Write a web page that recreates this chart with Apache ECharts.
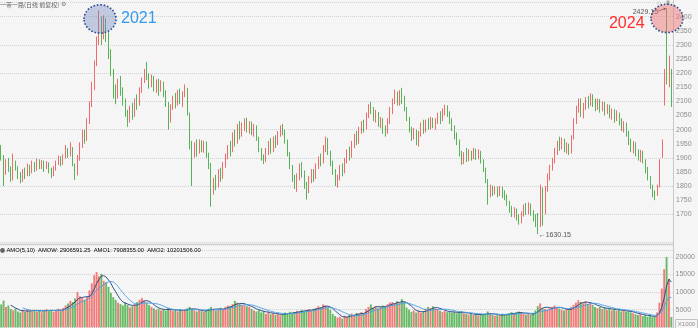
<!DOCTYPE html>
<html>
<head>
<meta charset="utf-8">
<script src="https://cdn.jsdelivr.net/npm/echarts@6/dist/echarts.min.js"></script>
<style>
html,body{margin:0;padding:0;background:#f5f5f5;}
#chart{width:698px;height:328px;}
</style>
</head>
<body>
<div id="chart"></div>
<script>
// Daily bars: [open, close, low, high]
const candles = [
[1925,1905,1890,1945],[1900,1850,1800,1910],[1850,1880,1840,1895],[1885,1860,1850,1900],[1860,1825,1815,1870],
[1830,1880,1820,1915],[1880,1865,1855,1890],[1862,1838,1825,1870],[1840,1820,1810,1850],[1822,1850,1815,1860],
[1852,1840,1825,1865],[1842,1870,1835,1880],[1868,1848,1835,1875],[1850,1880,1845,1890],[1878,1860,1850,1885],
[1862,1890,1855,1898],[1888,1870,1860,1895],[1872,1885,1860,1892],[1883,1865,1850,1890],[1866,1880,1860,1888],
[1878,1860,1845,1884],[1858,1840,1828,1865],[1842,1862,1835,1870],[1864,1880,1855,1890],[1882,1900,1875,1908],
[1898,1880,1870,1905],[1882,1905,1875,1912],[1906,1930,1898,1945],[1928,1915,1900,1935],[1915,1935,1905,1955],
[1930,1880,1870,1938],[1875,1840,1822,1880],[1845,1900,1838,1910],[1900,1945,1890,1955],[1945,1990,1935,2000],
[1985,1965,1950,2000],[1968,2030,1960,2040],[2030,2090,2020,2100],[2090,2150,2080,2170],[2150,2230,2140,2245],
[2235,2310,2225,2330],[2320,2360,2300,2422],[2370,2330,2300,2400],[2335,2380,2320,2405],[2375,2340,2310,2395],
[2340,2270,2250,2350],[2270,2210,2190,2285],[2205,2140,2110,2215],[2140,2115,2090,2160],[2120,2160,2110,2180],
[2160,2140,2120,2190],[2138,2095,2085,2150],[2095,2060,2045,2110],[2058,2030,2010,2070],[2032,2075,2025,2085],
[2075,2050,2035,2095],[2052,2100,2045,2110],[2100,2090,2070,2125],[2092,2140,2085,2150],[2140,2175,2130,2185],
[2178,2205,2165,2215],[2205,2190,2175,2240],[2188,2160,2145,2200],[2160,2185,2150,2195],[2185,2150,2135,2190],
[2150,2170,2130,2178],[2172,2140,2120,2180],[2142,2165,2135,2175],[2165,2135,2115,2170],[2135,2090,2080,2140],
[2090,2030,2000,2098],[2035,2080,2025,2090],[2080,2110,2070,2120],[2110,2095,2075,2130],[2095,2130,2085,2140],
[2130,2100,2090,2145],[2100,2125,2080,2135],[2125,2150,2115,2160],[2140,2060,2050,2148],[2055,1960,1930,2060],
[1950,1910,1800,1960],[1915,1945,1900,1955],[1945,1925,1905,1965],[1925,1955,1915,1965],[1955,1935,1920,1962],
[1935,1950,1918,1960],[1950,1915,1900,1958],[1912,1880,1860,1918],[1875,1790,1727,1882],[1790,1820,1770,1830],
[1820,1800,1785,1840],[1802,1845,1795,1860],[1845,1830,1815,1865],[1832,1875,1825,1885],[1875,1905,1865,1915],
[1905,1935,1895,1945],[1935,1925,1905,1960],[1925,1975,1920,1990],[1975,1955,1940,2000],[1958,2000,1950,2020],
[2000,1985,1965,2030],[1985,2010,1975,2025],[2010,2030,1995,2040],[2030,2000,1990,2042],[2000,2020,1985,2030],
[2020,1995,1980,2028],[1995,2010,1975,2020],[2010,1970,1960,2015],[1970,1930,1920,1975],[1930,1900,1890,1935],
[1900,1890,1878,1912],[1892,1925,1885,1935],[1925,1945,1910,1960],[1945,1930,1915,1970],[1932,1960,1920,1975],
[1960,1950,1935,1980],[1952,1985,1945,1995],[1985,2005,1975,2015],[2005,1995,1980,2020],[1995,1960,1950,2000],
[1960,1915,1905,1965],[1915,1870,1860,1920],[1870,1830,1815,1875],[1830,1800,1790,1840],[1800,1830,1780,1845],
[1830,1870,1820,1880],[1870,1845,1830,1885],[1845,1800,1790,1855],[1800,1785,1752,1815],[1785,1820,1775,1835],
[1820,1845,1810,1860],[1845,1830,1815,1860],[1830,1870,1825,1880],[1870,1895,1860,1905],[1895,1885,1870,1915],
[1885,1930,1880,1945],[1930,1960,1920,1975],[1960,1920,1910,1970],[1920,1880,1870,1925],[1880,1850,1840,1890],
[1850,1815,1800,1860],[1815,1830,1795,1840],[1830,1865,1820,1875],[1865,1850,1835,1880],[1850,1890,1845,1900],
[1890,1920,1880,1930],[1920,1905,1890,1940],[1905,1945,1900,1960],[1945,1975,1935,1985],[1975,1960,1945,1995],
[1960,1995,1950,2010],[1995,2020,1985,2030],[2020,2005,1990,2035],[2005,2050,2000,2060],[2050,2080,2040,2090],
[2080,2070,2055,2098],[2070,2040,2030,2080],[2040,2055,2025,2070],[2055,2020,2010,2062],[2020,2035,2005,2045],
[2035,2000,1985,2040],[2000,1990,1975,2015],[1990,2030,1985,2040],[2030,2065,2020,2080],[2065,2100,2055,2110],
[2100,2130,2090,2142],[2130,2095,2085,2135],[2095,2125,2085,2140],[2125,2110,2090,2148],[2110,2075,2065,2120],
[2075,2040,2030,2080],[2040,2000,1990,2045],[2000,1975,1960,2010],[1975,1995,1965,2005],[1995,1960,1945,2000],
[1960,1985,1940,1995],[1985,2015,1975,2025],[2015,2000,1985,2035],[2000,2025,1990,2035],[2025,2010,2000,2040],
[2010,2035,2000,2045],[2035,2015,2005,2042],[2015,2030,2000,2040],[2030,2050,2020,2060],[2050,2035,2020,2065],
[2035,2065,2030,2075],[2065,2080,2050,2088],[2080,2055,2045,2086],[2055,2030,2020,2065],[2030,2010,1995,2040],
[2010,1980,1965,2015],[1980,1960,1945,1990],[1960,1920,1905,1965],[1920,1890,1875,1925],[1890,1910,1878,1920],
[1910,1895,1885,1935],[1895,1920,1888,1930],[1920,1905,1890,1925],[1905,1925,1895,1935],[1925,1905,1893,1932],
[1905,1915,1895,1930],[1915,1890,1880,1925],[1890,1860,1850,1895],[1860,1820,1810,1865],[1820,1770,1734,1825],
[1770,1795,1760,1805],[1795,1780,1765,1802],[1780,1790,1770,1800],[1790,1775,1760,1798],[1775,1790,1765,1800],
[1790,1770,1758,1798],[1770,1760,1750,1785],[1760,1740,1730,1770],[1740,1720,1705,1748],[1720,1700,1690,1730],
[1700,1715,1688,1725],[1715,1690,1678,1720],[1690,1675,1663,1700],[1675,1700,1668,1710],[1700,1725,1692,1735],
[1725,1710,1698,1740],[1710,1730,1700,1742],[1730,1705,1695,1738],[1705,1690,1675,1715],[1690,1665,1655,1700],
[1700,1650,1630.15,1705],[1660,1790,1655,1805],[1785,1700,1660,1795],[1705,1790,1700,1800],[1790,1830,1780,1845],
[1830,1865,1820,1875],[1865,1890,1855,1900],[1890,1920,1880,1935],[1920,1950,1910,1960],[1950,1940,1925,1975],
[1940,1960,1930,1972],[1960,1935,1920,1968],[1935,1945,1915,1955],[1945,1920,1910,1950],[1920,1970,1915,1980],
[1970,2030,1965,2040],[2030,2070,2020,2085],[2070,2100,2060,2110],[2100,2060,2045,2110],[2060,2085,2040,2095],
[2085,2105,2070,2115],[2105,2090,2075,2120],[2090,2115,2085,2129],[2115,2095,2080,2125],[2095,2080,2065,2110],
[2080,2100,2070,2110],[2100,2075,2060,2108],[2075,2090,2065,2100],[2090,2065,2050,2098],[2065,2080,2055,2090],
[2080,2050,2040,2088],[2050,2065,2035,2075],[2065,2040,2025,2072],[2040,2055,2030,2068],[2055,2030,2015,2060],
[2030,2010,1995,2040],[2010,2020,1990,2030],[2020,1985,1975,2025],[1985,1960,1945,1995],[1960,1935,1920,1968],
[1935,1950,1915,1960],[1950,1920,1905,1955],[1920,1905,1890,1930],[1905,1920,1885,1928],[1920,1890,1880,1925],
[1890,1860,1845,1895],[1860,1830,1820,1868],[1830,1800,1790,1835],[1800,1770,1760,1805],[1770,1765,1750,1785],
[1770,1795,1765,1805],[1800,1890,1795,1895],[1905,1960,1900,1965],[2090,2210,2085,2215],[2395,2170,2160,2429.15],
[2185,2250,2150,2262],[2200,2105,2080,2215]
];

// Turnover per bar, in units of 1000
const volumes = [
6500,7600,5800,6200,5200,4800,5300,4500,4200,4900,
4400,5100,4600,4700,5000,4500,4900,4300,4800,5200,
4600,5000,4400,4900,5300,4700,5500,6200,6800,7500,
7200,8200,10000,8800,8300,7800,8600,10500,12500,14800,
15700,14500,15200,13200,12800,11500,9800,8600,7800,7000,
6600,6200,7000,6400,5600,6000,6500,7200,7800,8300,
7600,7000,6300,5800,5400,5000,5300,4800,5100,4700,
5500,5000,4600,4900,4500,5200,4700,5000,5400,5800,
5200,4800,4500,5000,4600,4400,4900,5300,5800,5200,
4700,5000,5500,5300,5800,6200,6000,6600,7500,7000,
6600,6200,6400,6000,5800,5200,4800,4500,4900,4200,
4600,3800,4300,3700,4000,3500,3900,3400,3800,4200,
3900,4400,4000,4300,4700,4500,5000,4600,4900,5200,
4800,5300,5500,6000,5700,6500,6200,5600,5000,3800,
3200,2800,3000,2500,3300,2900,3600,3900,3500,4100,
3800,4300,4000,5200,5800,6500,5600,6000,5400,5800,
6200,5900,6600,7000,7200,6800,7400,7000,8000,7200,
5600,5000,4400,4800,4200,4600,4100,4500,5300,5800,
5500,6000,5400,5200,4700,4400,4600,4300,4500,4100,
4400,4000,4200,4600,4000,3800,3600,3900,3500,3700,
3400,3800,3500,3900,4500,3800,3500,3300,3600,3400,
3700,3500,3800,4000,4300,3900,4200,4500,4100,3800,
3600,3900,3500,4000,4800,6000,6800,5500,5200,5000,
5400,5800,6200,5600,5300,5000,4800,5200,4900,5800,
6400,7000,7700,7200,6800,7300,6600,7000,6400,5800,
5400,5800,5200,5600,5000,5400,4800,5200,4700,5000,
4500,4800,4400,4600,4200,4000,3700,3500,3800,3200,
3400,3000,3300,2900,3100,4200,7000,11000,16500,20000,
13800,2906.59
];

const priceRange = [1600, 2450];
const priceLabelRange = [1700, 2400];
const volumeRange = [0, 22000];
const volumeLabelRange = [5000, 20000];
const maPeriods = [5, 10];
const titleText = '一带一路(日线 前复权)';
const legendParts = ['AMO(5,10)  AMOW: 2906591.25  AMO1: 7908355.00  ', 'AMO2: 10201506.00'];
const yearTags = ['2021', '2024'];
const unitTag = 'X1000';

const UP = '#f26a6a', DOWN = '#58b258';
const UP_VOL = '#f47a7a', DOWN_VOL = '#66ba66';
const FONT = '"Liberation Sans", Arial, sans-serif';

const categories = candles.map((c, i) => String(i));

function movingAverage(n) {
  const out = [];
  let sum = 0;
  for (let i = 0; i < volumes.length; i++) {
    sum += volumes[i];
    if (i >= n) sum -= volumes[i - n];
    out.push(i >= n - 1 ? +(sum / n).toFixed(2) : '-');
  }
  return out;
}

const chart = echarts.init(document.getElementById('chart'), null, { renderer: 'canvas' });

const hiddenCat = {
  type: 'category', data: categories, boundaryGap: true,
  axisLine: { show: false }, axisTick: { show: false }, axisLabel: { show: false }, splitLine: { show: false }
};
const dotted = { type: 'dotted', color: '#d2d2d2', width: 1 };

chart.setOption({
  animation: false,
  backgroundColor: '#f5f5f5',
  textStyle: { fontFamily: FONT },
  grid: [
    { left: 0, right: 25, top: 2.6, height: 239.9 },
    { left: 0, right: 25, top: 249.9, height: 77.4 }
  ],
  xAxis: [
    Object.assign({ gridIndex: 0 }, hiddenCat),
    Object.assign({ gridIndex: 1 }, hiddenCat)
  ],
  yAxis: [
    {
      gridIndex: 0, position: 'right', min: priceRange[0], max: priceRange[1], interval: 50,
      axisLine: { show: false }, axisTick: { show: false }, splitLine: { show: false },
      axisLabel: {
        fontSize: 7, color: '#8c8c8c', margin: 3, fontFamily: FONT, showMaxLabel: false,
        formatter: v => (v >= priceLabelRange[0] && v <= priceLabelRange[1]) ? String(v) : ''
      }
    },
    {
      gridIndex: 0, position: 'right', min: priceRange[0], max: priceRange[1], interval: 100,
      axisLine: { show: false }, axisTick: { show: false }, axisLabel: { show: false },
      splitLine: { show: true, lineStyle: dotted }
    },
    {
      gridIndex: 1, position: 'right', min: volumeRange[0], max: volumeRange[1], interval: 5000,
      axisLine: { show: false }, axisTick: { show: false },
      splitLine: { show: true, lineStyle: dotted },
      axisLabel: {
        fontSize: 7, color: '#8c8c8c', margin: 3, fontFamily: FONT, showMaxLabel: false,
        formatter: v => (v >= volumeLabelRange[0] && v <= volumeLabelRange[1] && v % 5000 === 0) ? String(v) : ''
      }
    }
  ],
  series: [
    {
      type: 'candlestick', xAxisIndex: 0, yAxisIndex: 0, data: candles, barWidth: '40%',
      itemStyle: { color: UP, color0: DOWN, borderColor: UP, borderColor0: DOWN, borderWidth: 1 }
    },
    {
      type: 'bar', xAxisIndex: 1, yAxisIndex: 2, barWidth: '80%',
      data: volumes.map((v, i) => ({
        value: v,
        itemStyle: { color: candles[i][1] >= candles[i][0] ? UP_VOL : DOWN_VOL }
      }))
    },
    {
      type: 'line', xAxisIndex: 1, yAxisIndex: 2, data: movingAverage(maPeriods[0]),
      symbol: 'none', lineStyle: { color: '#1d3f7e', width: 0.9 }, z: 5
    },
    {
      type: 'line', xAxisIndex: 1, yAxisIndex: 2, data: movingAverage(maPeriods[1]),
      symbol: 'none', lineStyle: { color: '#4a9fe6', width: 0.9 }, z: 5
    }
  ]
});

// Locate the extremes from the bars themselves
let maxIdx = 0, minIdx = 0, earlyIdx = 0;
candles.forEach((c, i) => {
  if (c[3] > candles[maxIdx][3]) maxIdx = i;
  if (c[2] < candles[minIdx][2]) minIdx = i;
  if (i < candles.length / 2 && c[3] > candles[earlyIdx][3]) earlyIdx = i;
});
const toPx = (i, v) => chart.convertToPixel({ xAxisIndex: 0, yAxisIndex: 0 }, [i, v]);
const pMax = toPx(maxIdx, candles[maxIdx][3]);
const pMin = toPx(minIdx, candles[minIdx][2]);
const eA = toPx(earlyIdx, candles[earlyIdx][3] - 30);
const eB = toPx(maxIdx, candles[maxIdx][3] - 35);

const small = '7px ' + FONT;
const ringStroke = { stroke: '#2b4d8e', lineWidth: 1.6, lineDash: [1.6, 1.8] };

chart.setOption({
  graphic: [
    // panel frame
    { type: 'line', z: 50, shape: { x1: 0, y1: 244.5, x2: 673.5, y2: 244.5 }, style: { stroke: '#cfcfcf', lineWidth: 1.5 } },
    { type: 'line', z: 50, shape: { x1: 673.5, y1: 0, x2: 673.5, y2: 328 }, style: { stroke: '#c9c9c9', lineWidth: 1 } },
    // title
    { type: 'text', z: 60, x: 0, y: 4.5, style: { text: titleText, font: '6px "Noto Sans CJK SC", sans-serif', fill: '#666', verticalAlign: 'middle' } },
    { type: 'text', z: 60, x: 61, y: 4.5, style: { text: '⚙', font: '6px "DejaVu Sans", sans-serif', fill: '#777', verticalAlign: 'middle' } },
    // indicator legend
    { type: 'circle', z: 60, shape: { cx: 2.5, cy: 250.5, r: 2.4 }, style: { fill: '#666' } },
    {
      type: 'text', z: 60, x: 6.5, y: 250.5,
      style: {
        text: '{a|' + legendParts[0] + '}{b|' + legendParts[1] + '}',
        verticalAlign: 'middle',
        rich: {
          a: { fontSize: 5.8, fontFamily: FONT, color: '#555' },
          b: { fontSize: 5.8, fontFamily: FONT, color: '#3d8fe0' }
        }
      }
    },
    // unit box
    { type: 'rect', z: 60, shape: { x: 675.5, y: 319.5, width: 22, height: 9 }, style: { fill: '#f5f5f5', stroke: '#c2c2c2', lineWidth: 1 } },
    { type: 'text', z: 61, x: 686.5, y: 324.3, style: { text: unitTag, font: '6px ' + FONT, fill: '#8c8c8c', align: 'center', verticalAlign: 'middle' } },
    // top-right icons
    { type: 'text', z: 60, x: 659, y: 3, style: { text: '◇', font: '6px "DejaVu Sans", sans-serif', fill: '#999', align: 'center', verticalAlign: 'middle' } },
    { type: 'rect', z: 60, shape: { x: 666.5, y: 0.5, width: 3, height: 4.5 }, style: { fill: '#aaa' } },
    // extreme labels
    { type: 'text', z: 70, x: pMax[0] - 9, y: pMax[1] + 3.3, style: { text: String(candles[maxIdx][3]), font: small, fill: '#555', align: 'right', verticalAlign: 'middle' } },
    { type: 'line', z: 70, shape: { x1: pMax[0] - 9, y1: pMax[1] + 2.5, x2: pMax[0] - 1, y2: pMax[1] }, style: { stroke: '#555', lineWidth: 0.8 } },
    { type: 'polygon', z: 70, shape: { points: [[pMax[0] - 0.5, pMax[1]], [pMax[0] - 3.5, pMax[1] - 0.8], [pMax[0] - 3, pMax[1] + 1.6]] }, style: { fill: '#555' } },
    { type: 'text', z: 70, x: pMin[0] + 0.5, y: pMin[1] + 1, style: { text: '←' + candles[minIdx][2].toFixed(2), font: small, fill: '#555', verticalAlign: 'middle' } },
    // highlighted peaks
    { type: 'ellipse', z: 80, shape: { cx: eA[0] + 1, cy: eA[1], rx: 16, ry: 14.2 }, style: Object.assign({ fill: 'rgba(105,128,190,0.38)' }, ringStroke) },
    { type: 'ellipse', z: 80, shape: { cx: eB[0], cy: eB[1], rx: 16, ry: 14.2 }, style: Object.assign({ fill: 'rgba(240,105,105,0.45)' }, ringStroke) },
    { type: 'text', z: 90, x: eA[0] + 22, y: eA[1] - 0.5, style: { text: yearTags[0], font: '16px ' + FONT, fill: '#3399ee', verticalAlign: 'middle' } },
    { type: 'text', z: 90, x: eB[0] - 22.5, y: eB[1] + 5.5, style: { text: yearTags[1], font: '16px ' + FONT, fill: '#ff2d2d', align: 'right', verticalAlign: 'middle' } }
  ]
});
</script>
</body>
</html>
